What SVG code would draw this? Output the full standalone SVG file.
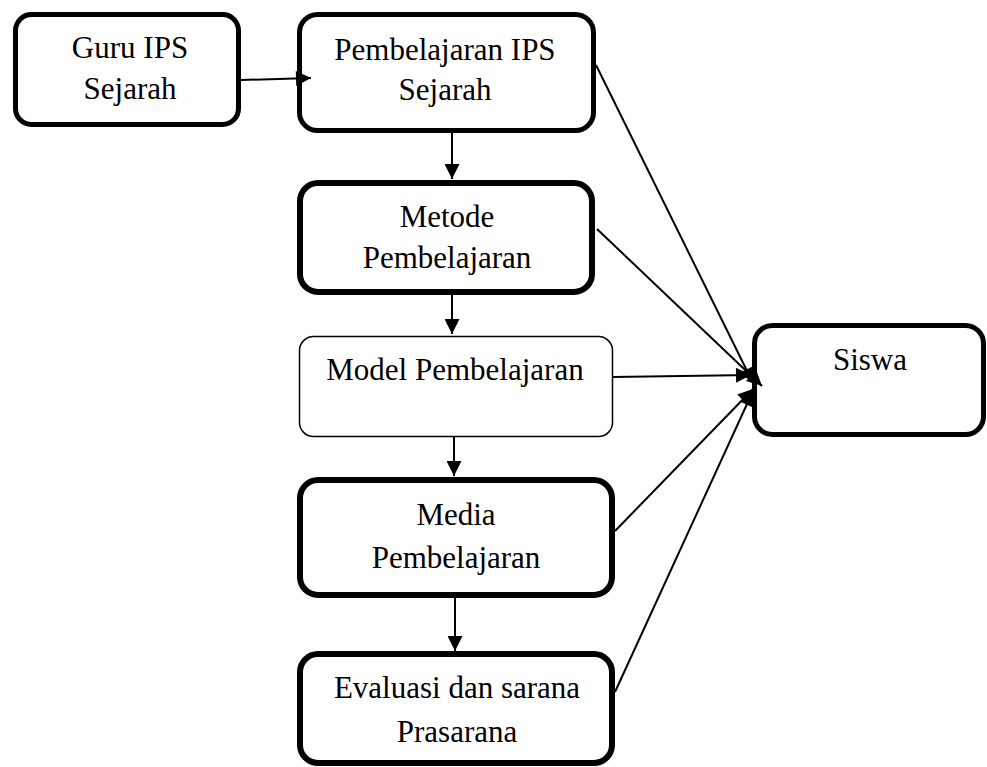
<svg xmlns="http://www.w3.org/2000/svg" width="987" height="767" viewBox="0 0 987 767">
<style>
.box{fill:#fff;stroke:#000;}
.t{font-family:"Liberation Serif","Times New Roman",serif;font-size:31px;fill:#000;text-anchor:middle;}
.c{stroke:#000;stroke-width:2;fill:none;}
</style>
<defs>
<marker id="ah" viewBox="0 0 10 10" refX="10" refY="5" markerWidth="8" markerHeight="7.5" orient="auto" markerUnits="strokeWidth">
<path d="M0,0 L10,5 L0,10 Z" fill="#000"/>
</marker>
</defs>
<rect x="0" y="0" width="987" height="767" fill="#fff"/>
<g id="guru">
<rect class="box" x="15.5" y="14.5" width="223" height="110" rx="16" stroke-width="5"/>
<text class="t" x="130" y="58">Guru IPS</text>
<text class="t" x="130" y="99">Sejarah</text>
</g>
<g id="pembelajaran-ips">
<rect class="box" x="299.5" y="14.5" width="294" height="116" rx="18" stroke-width="5"/>
<text class="t" x="445" y="60">Pembelajaran IPS</text>
<text class="t" x="445" y="100">Sejarah</text>
</g>
<g id="metode">
<rect class="box" x="300" y="183" width="292" height="109" rx="18" stroke-width="6"/>
<text class="t" x="447" y="227">Metode</text>
<text class="t" x="447" y="268">Pembelajaran</text>
</g>
<g id="model">
<rect class="box" x="299.5" y="336.5" width="313" height="100" rx="14" stroke-width="1.5"/>
<text class="t" x="455" y="380">Model Pembelajaran</text>
</g>
<g id="media">
<rect class="box" x="300" y="480" width="312" height="115" rx="18" stroke-width="6"/>
<text class="t" x="456" y="525">Media</text>
<text class="t" x="456" y="568">Pembelajaran</text>
</g>
<g id="evaluasi">
<rect class="box" x="300" y="654" width="312" height="109" rx="18" stroke-width="6"/>
<text class="t" x="457" y="698">Evaluasi dan sarana</text>
<text class="t" x="457" y="742">Prasarana</text>
</g>
<g id="siswa">
<rect class="box" x="754.5" y="325.5" width="229" height="109" rx="18" stroke-width="5"/>
<text class="t" x="870" y="370">Siswa</text>
</g>
<g id="connectors">
<line class="c" x1="241" y1="80" x2="311" y2="78" marker-end="url(#ah)"/>
<line class="c" x1="452" y1="133" x2="452" y2="179" marker-end="url(#ah)"/>
<line class="c" x1="452" y1="295" x2="452" y2="334" marker-end="url(#ah)"/>
<line class="c" x1="454" y1="437" x2="454" y2="476" marker-end="url(#ah)"/>
<line class="c" x1="455" y1="598" x2="455" y2="651" marker-end="url(#ah)"/>
<line class="c" x1="596" y1="65" x2="753" y2="383" marker-end="url(#ah)"/>
<line class="c" x1="597" y1="229" x2="762" y2="386" marker-end="url(#ah)"/>
<line class="c" x1="613" y1="377" x2="751" y2="375" marker-end="url(#ah)"/>
<line class="c" x1="615" y1="531" x2="753" y2="389" marker-end="url(#ah)"/>
<line class="c" x1="615" y1="692" x2="753" y2="391" marker-end="url(#ah)"/>
</g>
</svg>
